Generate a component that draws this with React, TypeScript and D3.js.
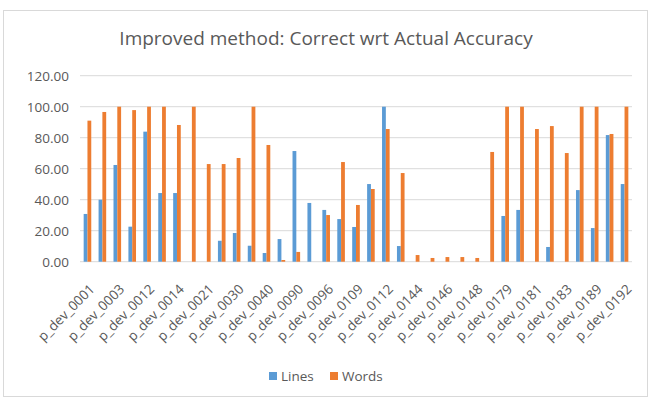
import React from "react";
import * as d3 from "d3";

const categories = [
  "p_dev_0001", "p_dev_0002", "p_dev_0003", "p_dev_0010", "p_dev_0012", "p_dev_0013",
  "p_dev_0014", "p_dev_0020", "p_dev_0021", "p_dev_0025", "p_dev_0030", "p_dev_0035",
  "p_dev_0040", "p_dev_0085", "p_dev_0090", "p_dev_0095", "p_dev_0096", "p_dev_0100",
  "p_dev_0109", "p_dev_0110", "p_dev_0112", "p_dev_0140", "p_dev_0144", "p_dev_0145",
  "p_dev_0146", "p_dev_0147", "p_dev_0148", "p_dev_0175", "p_dev_0179", "p_dev_0180",
  "p_dev_0181", "p_dev_0182", "p_dev_0183", "p_dev_0185", "p_dev_0189", "p_dev_0190",
  "p_dev_0192",
];

const lines = [
  30.8, 40.0, 62.4, 22.6, 83.9, 44.3, 44.3, 0, 0, 13.5, 18.5, 10.3,
  5.6, 14.6, 71.4, 37.9, 33.4, 27.5, 22.4, 50.1, 100, 10.1, 0, 0,
  0, 0, 0, 0, 29.5, 33.4, 0, 9.5, 0, 46.2, 21.7, 81.7, 50.1,
];

const words = [
  91.0, 96.6, 100, 97.8, 100, 100, 88.2, 100, 63.0, 63.0, 66.9, 100,
  75.3, 1.1, 6.3, 0, 30.1, 64.3, 36.6, 46.9, 85.6, 57.2, 4.3, 2.4,
  3.0, 3.0, 2.4, 70.8, 100, 100, 85.6, 87.5, 70.1, 100, 100, 82.4, 100,
];

const yTicks = [0, 20, 40, 60, 80, 100, 120];
const seriesNames = ["Lines", "Words"];
const colors = ["#5B9BD5", "#ED7D31"];

const W = 650;
const H = 401;
const font = "'Open Sans', sans-serif";

export default function App() {
  const x = d3.scaleBand<string>().domain(categories).range([80, 632]);
  const y = d3.scaleLinear().domain([0, 120]).range([261.7, 75.7]);
  const barW = 3.8;
  const fmt = d3.format(".2f");
  const legendX = [269, 330];

  return (
    <div style={{ position: "fixed", left: 0, top: 0 }}>
      <svg width={W} height={H} style={{ display: "block", background: "#fff" }}>
        <rect x={3.5} y={10.5} width={644} height={386} fill="#fff" stroke="#D9D9D9" />
        <text x={326} y={44.5} textAnchor="middle" fontFamily={font} fontSize={19} fill="#595959">
          Improved method: Correct wrt Actual Accuracy
        </text>
        {yTicks.map((t) => (
          <g key={t}>
            <line x1={80} x2={632} y1={y(t)} y2={y(t)} stroke="#D9D9D9" strokeWidth={1} />
            <text x={69} y={y(t) + 4.8} textAnchor="end" fontFamily={font} fontSize={13.5} fill="#595959">
              {fmt(t)}
            </text>
          </g>
        ))}
        {categories.map((c, i) => {
          const cx = (x(c) as number) + x.bandwidth() / 2;
          return (
            <g key={c}>
              {lines[i] > 0 && (
                <rect x={cx - barW} y={y(lines[i])} width={barW} height={y(0) - y(lines[i])} fill={colors[0]} />
              )}
              {words[i] > 0 && (
                <rect x={cx} y={y(words[i])} width={barW} height={y(0) - y(words[i])} fill={colors[1]} />
              )}
            </g>
          );
        })}
        {categories.map((c, i) =>
          i % 2 === 0 ? (
            <text
              key={"l" + c}
              transform={`translate(${(x(c) as number) + x.bandwidth() / 2 + 8},${290}) rotate(-45)`}
              textAnchor="end"
              fontFamily={font}
              fontSize={13.5}
              fill="#595959"
            >
              {c}
            </text>
          ) : null
        )}
        {seriesNames.map((s, i) => (
          <g key={s}>
            <rect x={legendX[i]} y={372} width={8} height={8} fill={colors[i]} />
            <text x={legendX[i] + 12} y={381} fontFamily={font} fontSize={13.5} fill="#595959">
              {s}
            </text>
          </g>
        ))}
      </svg>
    </div>
  );
}
